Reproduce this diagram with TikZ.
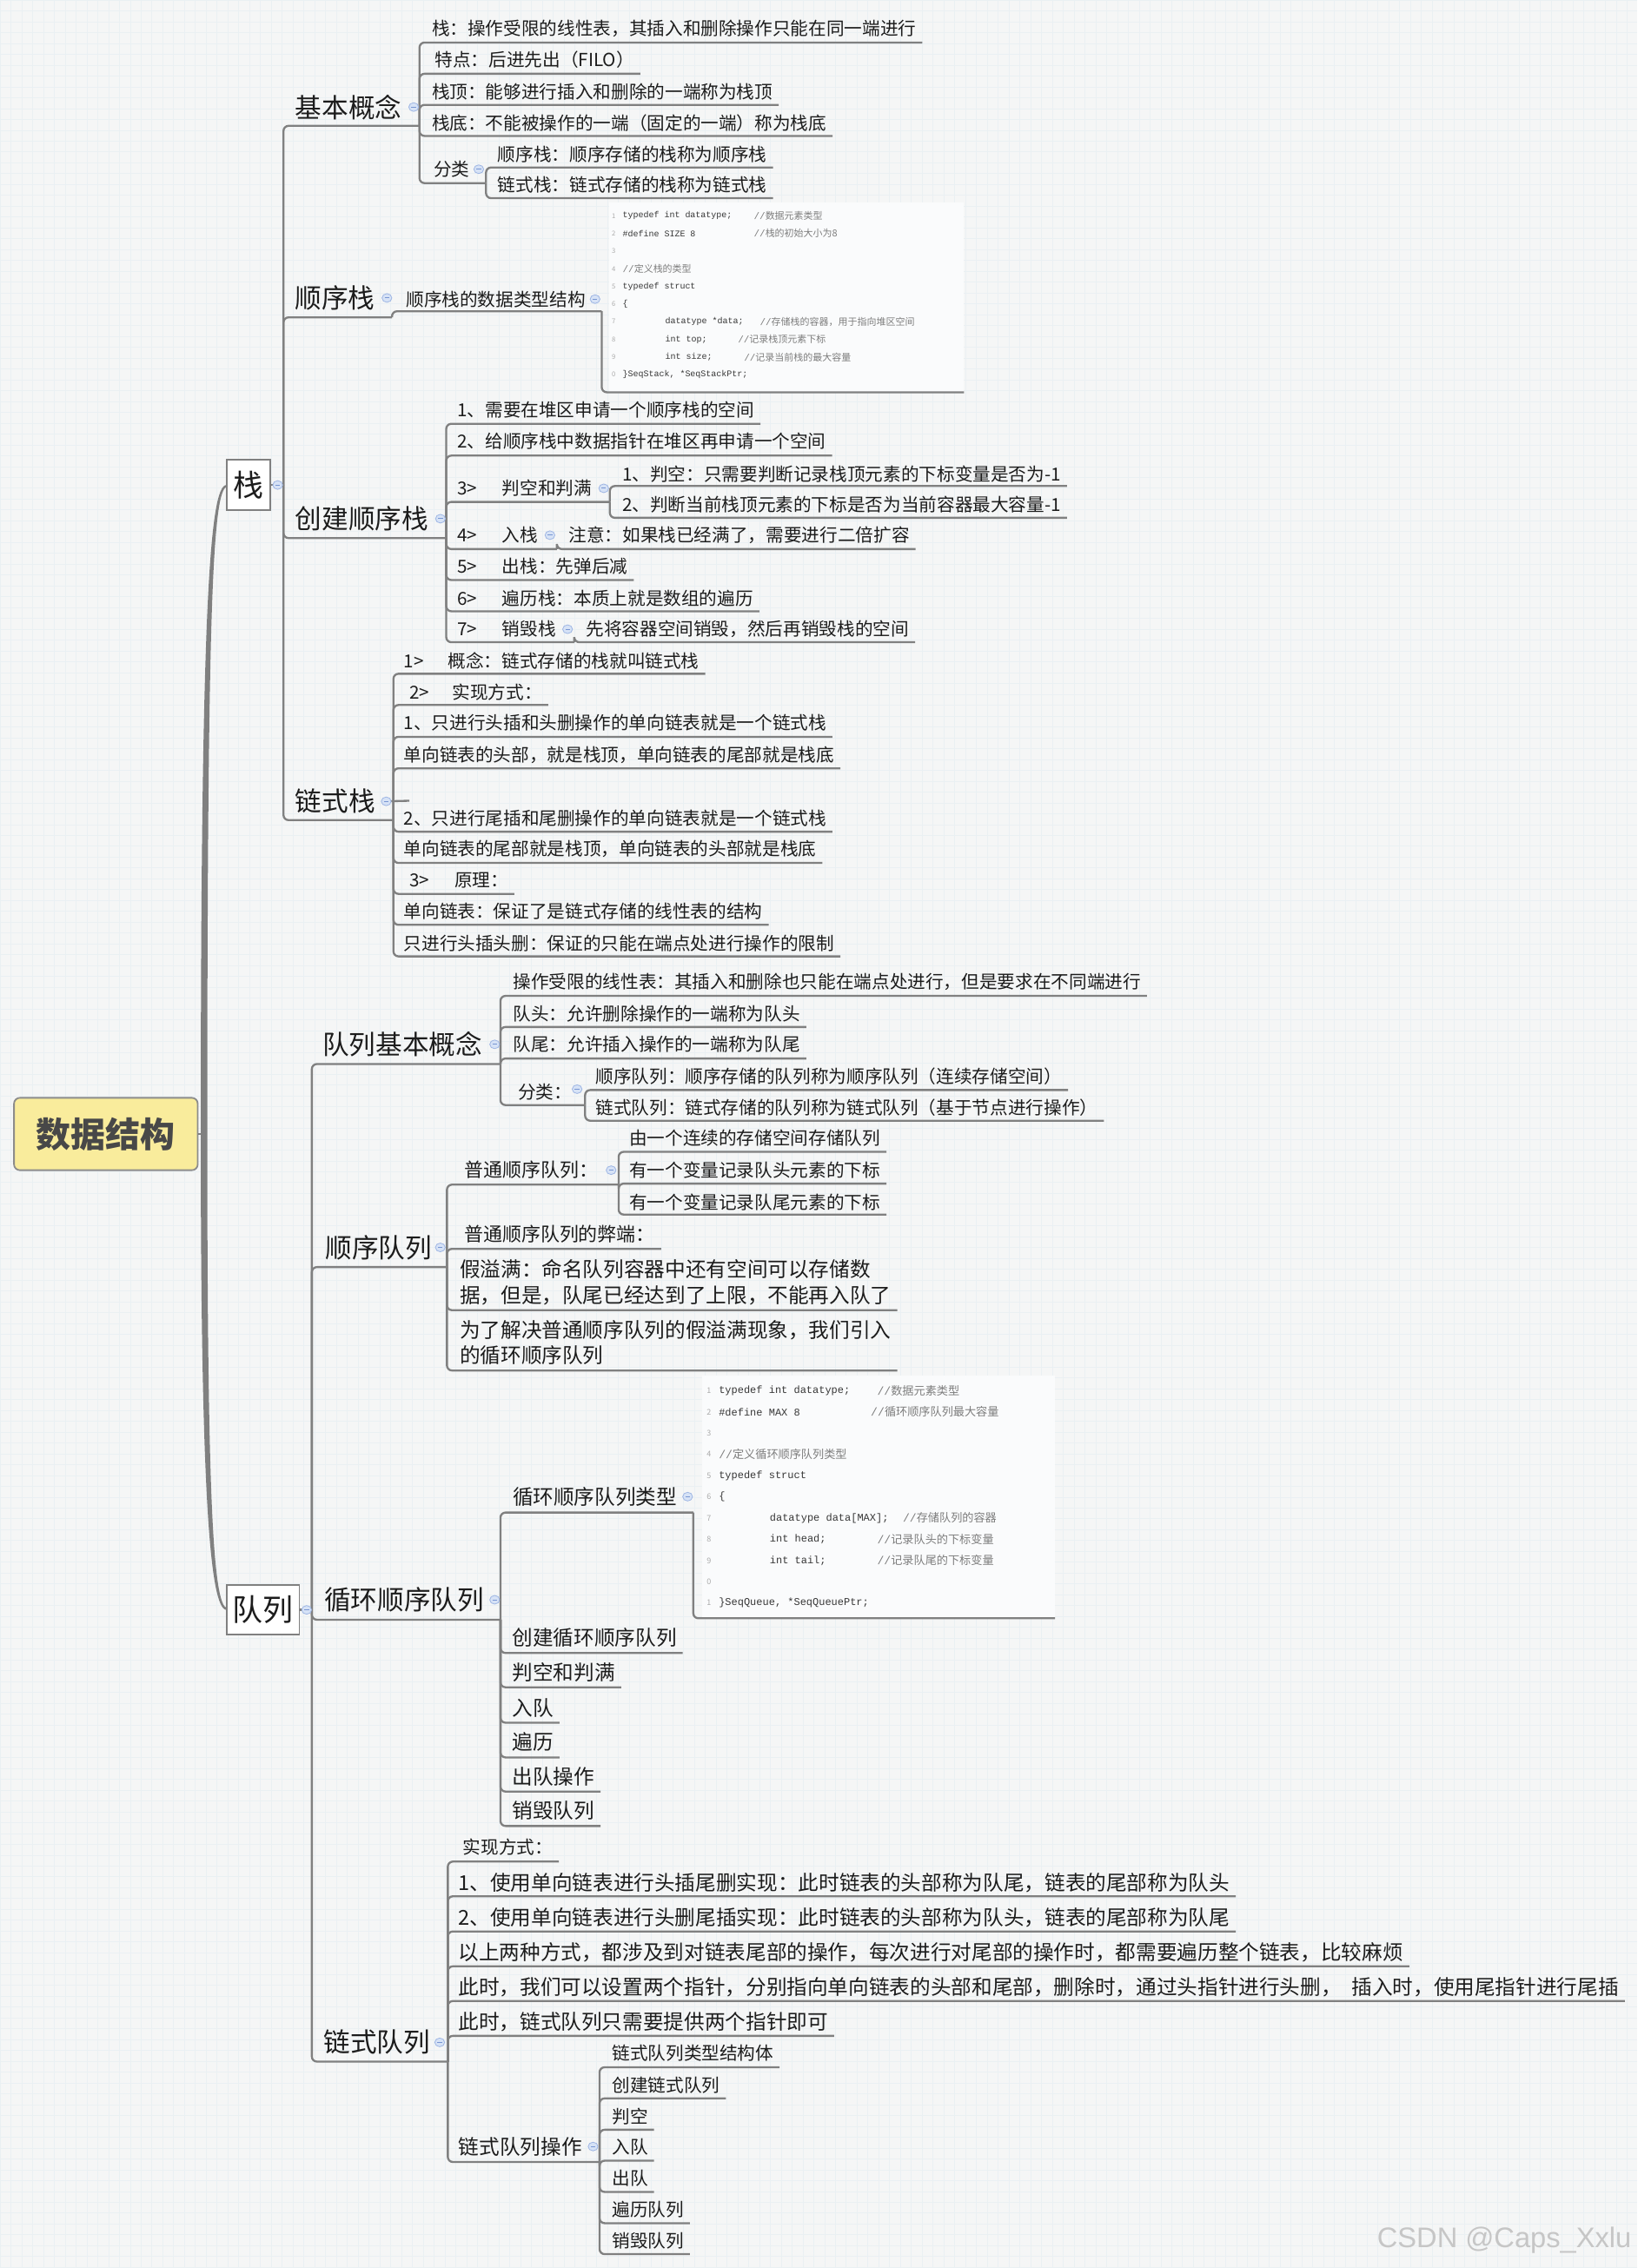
\documentclass[tikz,border=0pt]{standalone}
\usepackage{fontspec}
\setmainfont{Noto Sans CJK SC}
\newfontfamily\monof{Liberation Mono}
\newfontfamily\wmfont{Liberation Sans}
\usetikzlibrary{calc}
\definecolor{bgc}{RGB}{245,246,246}
\definecolor{gridc}{RGB}{234,240,243}
\definecolor{linec}{RGB}{128,128,128}
\definecolor{txtc}{RGB}{28,28,28}
\definecolor{rootfill}{RGB}{249,236,156}
\definecolor{rootdraw}{RGB}{140,140,140}
\definecolor{roottxt}{RGB}{72,72,72}
\definecolor{codebg}{RGB}{250,251,252}
\definecolor{codec}{RGB}{55,55,55}
\definecolor{commc}{RGB}{125,125,125}
\definecolor{numc}{RGB}{170,170,170}
\definecolor{cfill}{RGB}{214,226,246}
\definecolor{cdraw}{RGB}{160,183,228}
\definecolor{cminus}{RGB}{120,150,210}
\definecolor{wmc}{RGB}{198,198,198}
% leaf: style, name, x, ycenter, parent junction, underline offset, text
\newcommand\mmleaf[7]{\node[#1] (#2) at (#3,#4) {#7};\draw[conn] (#5) |- ($(#2.east)+(4,#6)$);}
% parent: style, name, x, ycenter, parent junction, junction x, junction y, text
\newcommand\mmpar[8]{\node[#1] (#2) at (#3,#4) {#8};\coordinate (#2-j) at (#6,#7);\draw[conn] (#5) |- (#2-j);}
\newcommand\mmcirc[2]{\draw[fill=cfill,draw=cdraw,line width=0.5pt] (#1,#2) ellipse [x radius=3.4, y radius=3];\draw[cminus,line width=0.6pt] (#1-1.6,#2) -- (#1+1.6,#2);}
\newcommand\mmgt[2]{\makebox[#1pt][l]{#2}}
\begin{document}
\begin{tikzpicture}[x=1pt,y=-1pt,
  conn/.style={draw=linec, line width=1.4pt, rounded corners=3.5pt},
  lbase/.style={anchor=west, inner sep=0pt, text=txtc},
  lt/.style={lbase, font=\fontsize{12.4}{15}\selectfont},
  lq/.style={lbase, font=\fontsize{13.2}{16}\selectfont},
  lm/.style={lbase, font=\fontsize{14.2}{17}\selectfont},
  lh/.style={lbase, font=\fontsize{18.4}{22}\selectfont},
  catbox/.style={draw=linec, line width=1.1pt, fill=white, inner sep=0pt, text=txtc, font=\fontsize{21}{24}\selectfont},
  codebox/.style={fill=codebg, inner sep=0pt, anchor=north west},
  ca/.style={anchor=west, inner sep=0pt, text=codec, font=\monof\fontsize{6}{7}\selectfont},
  cca/.style={anchor=west, inner sep=0pt, text=commc, font=\fontsize{6.6}{7}\selectfont},
  cna/.style={anchor=west, inner sep=0pt, text=numc, font=\fontsize{4.6}{5}\selectfont},
  cb/.style={anchor=west, inner sep=0pt, text=codec, font=\monof\fontsize{7.2}{8}\selectfont},
  ccb/.style={anchor=west, inner sep=0pt, text=commc, font=\fontsize{7.9}{8}\selectfont},
  cnb/.style={anchor=west, inner sep=0pt, text=numc, font=\fontsize{5.4}{6}\selectfont}]
\useasboundingbox (0,0) rectangle (1132,1568);
\fill[bgc] (0,0) rectangle (1132,1568);
\draw[gridc, line width=0.35pt, step=7.5pt] (0,0) grid (1132,1568);

% ---------- root and trunk ----------
\node[draw=rootdraw, line width=1.1pt, fill=rootfill, rounded corners=4pt, minimum width=127pt, minimum height=50pt, inner sep=0pt, text=roottxt, font=\bfseries\fontsize{24}{28}\selectfont] (root) at (73.2,784) {数据结构};
\node[catbox, minimum width=30pt, minimum height=34.6pt] (zhan) at (172,335.3) {栈};
\node[catbox, minimum width=50pt, minimum height=34pt] (duilie) at (182,1113) {队列};
\fill[linec] (zhan.west) .. controls (145,336) and (138.8,420) .. (138.8,784) .. controls (138.8,1030) and (145,1112) .. (duilie.west) -- (157,1111.8) .. controls (147,1110) and (143.3,1030) .. (143.3,784) .. controls (143.3,420) and (147,338) .. (157,336.5) -- cycle;
\coordinate (trk) at (141,784);
\draw[linec, line width=1pt] (root.east) -- (trk);

% ---------- 栈 ----------
\coordinate (zhan-j) at (196,335.3);
\draw[conn] (zhan.east) -- (zhan-j);

\mmpar{lh}{jbgn}{204}{74}{zhan-j}{290}{87}{基本概念}
\mmleaf{lt}{a1}{298.4}{20}{jbgn-j}{9.4}{栈：操作受限的线性表，其插入和删除操作只能在同一端进行}
\mmleaf{lt}{a2}{300.6}{41}{jbgn-j}{10}{特点：后进先出（FILO）}
\mmleaf{lt}{a3}{298.4}{63.7}{jbgn-j}{8.8}{栈顶：能够进行插入和删除的一端称为栈顶}
\mmleaf{lt}{a4}{298.4}{85}{jbgn-j}{9}{栈底：不能被操作的一端（固定的一端）称为栈底}
\mmpar{lt}{a5}{299.6}{117}{jbgn-j}{336}{126.6}{分类}
\mmleaf{lt}{a51}{344}{107}{a5-j}{8.8}{顺序栈：顺序存储的栈称为顺序栈}
\mmleaf{lt}{a52}{344}{128}{a5-j}{9}{链式栈：链式存储的栈称为链式栈}

\mmpar{lh}{sxz}{203.7}{206}{zhan-j}{271}{219.4}{顺序栈}
\mmpar{lt}{sxzd}{280.6}{206.8}{sxz-j}{416}{215.2}{顺序栈的数据类型结构}
\node[codebox, minimum width=245pt, minimum height=130.8pt] (code1) at (421,140) {};
\draw[conn] (sxzd-j) |- (code1.south east);
% code block 1
\node[cna] (n11) at (422.8,149.2) {1};
\node[cna] (n12) at (422.8,161.4) {2};
\node[cna] (n13) at (422.8,173.6) {3};
\node[cna] (n14) at (422.8,185.8) {4};
\node[cna] (n15) at (422.8,198.0) {5};
\node[cna] (n16) at (422.8,210.2) {6};
\node[cna] (n17) at (422.8,222.4) {7};
\node[cna] (n18) at (422.8,234.6) {8};
\node[cna] (n19) at (422.8,246.8) {9};
\node[cna] (n110) at (422.8,259.0) {0};
\node[ca] (k1a) at (430.3,149.2) {typedef int datatype;};
\node[cca] (k1b) at (521,149.2) {{\monof //}数据元素类型};
\node[ca] (k2a) at (430.3,161.4) {\#define SIZE 8};
\node[cca] (k2b) at (521,161.4) {{\monof //}栈的初始大小为8};
\node[cca] (k4) at (430.3,185.8) {{\monof //}定义栈的类型};
\node[ca] (k5) at (430.3,198.0) {typedef struct};
\node[ca] (k6) at (430.3,210.2) {\{};
\node[ca] (k7a) at (459.8,222.4) {datatype *data;};
\node[cca] (k7b) at (525.2,222.4) {{\monof //}存储栈的容器，用于指向堆区空间};
\node[ca] (k8a) at (459.8,234.6) {int top;};
\node[cca] (k8b) at (510,234.6) {{\monof //}记录栈顶元素下标};
\node[ca] (k9a) at (459.8,246.8) {int size;};
\node[cca] (k9b) at (514.2,246.8) {{\monof //}记录当前栈的最大容量};
\node[ca] (k10) at (430.3,259.0) {\}SeqStack, *SeqStackPtr;};

\mmpar{lh}{cj}{204}{358.6}{zhan-j}{308.5}{372}{创建顺序栈}
\mmleaf{lt}{c1}{316}{283.5}{cj-j}{9.5}{1、需要在堆区申请一个顺序栈的空间}
\mmleaf{lt}{c2}{316}{305}{cj-j}{10}{2、给顺序栈中数据指针在堆区再申请一个空间}
\mmpar{lt}{c3}{316}{337.6}{cj-j}{421.6}{347}{\mmgt{31}{3>}判空和判满}
\mmleaf{lt}{c31}{430}{327.5}{c3-j}{8.5}{1、判空：只需要判断记录栈顶元素的下标变量是否为-1}
\mmleaf{lt}{c32}{430}{348.6}{c3-j}{9.4}{2、判断当前栈顶元素的下标是否为当前容器最大容量-1}
\mmpar{lt}{c4}{316}{370}{cj-j}{385}{379.6}{\mmgt{31}{4>}入栈}
\mmleaf{lt}{c41}{393}{370}{c4-j}{9.6}{注意：如果栈已经满了，需要进行二倍扩容}
\mmleaf{lt}{c5}{316}{391.6}{cj-j}{9.4}{\mmgt{31}{5>}出栈：先弹后减}
\mmleaf{lt}{c6}{316}{413.5}{cj-j}{9.1}{\mmgt{31}{6>}遍历栈：本质上就是数组的遍历}
\mmpar{lt}{c7}{316}{435}{cj-j}{397}{444}{\mmgt{31}{7>}销毁栈}
\mmleaf{lt}{c71}{405}{435}{c7-j}{9}{先将容器空间销毁，然后再销毁栈的空间}

\mmpar{lh}{lsz}{204}{554}{zhan-j}{272}{567}{链式栈}
\coordinate (lsz-s) at (283,553.6);
\draw[conn] ([xshift=8pt]lsz.east) -- (lsz-s);
\mmleaf{lt}{d1}{279}{456.7}{lsz-j}{9.1}{\mmgt{30.6}{1>}概念：链式存储的栈就叫链式栈}
\mmleaf{lt}{d2}{283}{478.4}{lsz-j}{9}{\mmgt{29.6}{2>}实现方式：}
\mmleaf{lt}{d3}{279}{499.8}{lsz-j}{9.6}{1、只进行头插和头删操作的单向链表就是一个链式栈}
\mmleaf{lt}{d4}{279}{521.7}{lsz-j}{9.5}{单向链表的头部，就是栈顶，单向链表的尾部就是栈底}
\mmleaf{lt}{d5}{279}{565.5}{lsz-j}{9.5}{2、只进行尾插和尾删操作的单向链表就是一个链式栈}
\mmleaf{lt}{d6}{279}{587}{lsz-j}{9.6}{单向链表的尾部就是栈顶，单向链表的头部就是栈底}
\mmleaf{lt}{d7}{283}{608.6}{lsz-j}{9.4}{\mmgt{31}{3>}原理：}
\mmleaf{lt}{d8}{279}{630}{lsz-j}{9.4}{单向链表：保证了是链式存储的线性表的结构}
\mmleaf{lt}{d9}{279}{652}{lsz-j}{9.2}{只进行头插头删：保证的只能在端点处进行操作的限制}

% ---------- 队列 ----------
\coordinate (duilie-j) at (215.6,1113);
\draw[conn] (duilie.east) -- (duilie-j);

\mmpar{lh}{qj}{222.8}{722}{duilie-j}{346}{735.6}{队列基本概念}
\mmleaf{lt}{e1}{354.6}{679}{qj-j}{9.5}{操作受限的线性表：其插入和删除也只能在端点处进行，但是要求在不同端进行}
\mmleaf{lt}{e2}{354.6}{701}{qj-j}{9}{队头：允许删除操作的一端称为队头}
\mmleaf{lt}{e3}{354.6}{722}{qj-j}{9.8}{队尾：允许插入操作的一端称为队尾}
\mmpar{lt}{e4}{358}{754.8}{qj-j}{404.5}{764}{分类：}
\mmleaf{lt}{e41}{411.6}{744}{e4-j}{9.6}{顺序队列：顺序存储的队列称为顺序队列（连续存储空间）}
\mmleaf{lt}{e42}{411.6}{765.6}{e4-j}{9.2}{链式队列：链式存储的队列称为链式队列（基于节点进行操作）}

\mmpar{lh}{sq}{224.8}{862.4}{duilie-j}{309}{876}{顺序队列}
\mmpar{lq}{f1}{321}{809}{sq-j}{427.7}{819}{普通顺序队列：}
\mmleaf{lt}{f11}{434.8}{786.8}{f1-j}{9.5}{由一个连续的存储空间存储队列}
\mmleaf{lt}{f12}{434.8}{809}{f1-j}{9.3}{有一个变量记录队头元素的下标}
\mmleaf{lt}{f13}{434.8}{831}{f1-j}{8.7}{有一个变量记录队尾元素的下标}
\mmleaf{lq}{f2}{320.7}{853.4}{sq-j}{10}{普通顺序队列的弊端：}
\node[lm] (f3) at (317.7,877.4) {假溢满：命名队列容器中还有空间可以存储数};
\mmleaf{lm}{f3b}{317.7}{895.4}{sq-j}{10.4}{据，但是，队尾已经达到了上限，不能再入队了}
\node[lm] (f4b) at (317.7,937) {的循环顺序队列};
\mmleaf{lm}{f4}{317.7}{919.5}{sq-j}{28}{为了解决普通顺序队列的假溢满现象，我们引入}

\mmpar{lh}{xh}{224}{1106}{duilie-j}{346}{1119.8}{循环顺序队列}
\mmpar{lm}{g0}{354.3}{1034.7}{xh-j}{479.3}{1045.7}{循环顺序队列类型}
\node[codebox, minimum width=244pt, minimum height=167.4pt] (code2) at (485,951) {};
\draw[conn] (g0-j) |- (code2.south east);
% code block 2
\node[cnb] (n21) at (488.5,961.5) {1};
\node[cnb] (n22) at (488.5,976.2) {2};
\node[cnb] (n23) at (488.5,990.8) {3};
\node[cnb] (n24) at (488.5,1005.5) {4};
\node[cnb] (n25) at (488.5,1020.2) {5};
\node[cnb] (n26) at (488.5,1034.8) {6};
\node[cnb] (n27) at (488.5,1049.5) {7};
\node[cnb] (n28) at (488.5,1064.2) {8};
\node[cnb] (n29) at (488.5,1078.9) {9};
\node[cnb] (n210) at (488.5,1093.5) {0};
\node[cnb] (n211) at (488.5,1108.2) {1};
\node[cb] (m1a) at (496.8,961.5) {typedef int datatype;};
\node[ccb] (m1b) at (606.3,961.5) {{\monof //}数据元素类型};
\node[cb] (m2a) at (496.8,976.2) {\#define MAX 8};
\node[ccb] (m2b) at (601.9,976.2) {{\monof //}循环顺序队列最大容量};
\node[ccb] (m4) at (496.8,1005.5) {{\monof //}定义循环顺序队列类型};
\node[cb] (m5) at (496.8,1020.2) {typedef struct};
\node[cb] (m6) at (496.8,1034.8) {\{};
\node[cb] (m7a) at (532,1049.5) {datatype data[MAX];};
\node[ccb] (m7b) at (624,1049.5) {{\monof //}存储队列的容器};
\node[cb] (m8a) at (532,1064.2) {int head;};
\node[ccb] (m8b) at (606.3,1064.2) {{\monof //}记录队头的下标变量};
\node[cb] (m9a) at (532,1078.9) {int tail;};
\node[ccb] (m9b) at (606.3,1078.9) {{\monof //}记录队尾的下标变量};
\node[cb] (m11) at (496.8,1108.2) {\}SeqQueue, *SeqQueuePtr;};

\mmleaf{lm}{g1}{354}{1132}{xh-j}{10.8}{创建循环顺序队列}
\mmleaf{lm}{g2}{354}{1156.3}{xh-j}{10.2}{判空和判满}
\mmleaf{lm}{g3}{354}{1181}{xh-j}{10}{入队}
\mmleaf{lm}{g4}{354}{1204.5}{xh-j}{10.5}{遍历}
\mmleaf{lm}{g5}{354}{1228}{xh-j}{10.6}{出队操作}
\mmleaf{lm}{g6}{354}{1252}{xh-j}{10.4}{销毁队列}

\mmpar{lh}{lq}{223.6}{1412}{duilie-j}{309.6}{1425.3}{链式队列}
\mmleaf{lt}{h0}{320}{1277}{lq-j}{10}{实现方式：}
\mmleaf{lm}{h1}{316.7}{1301.7}{lq-j}{9.3}{1、使用单向链表进行头插尾删实现：此时链表的头部称为队尾，链表的尾部称为队头}
\mmleaf{lm}{h2}{316.7}{1325.7}{lq-j}{9.6}{2、使用单向链表进行头删尾插实现：此时链表的头部称为队头，链表的尾部称为队尾}
\mmleaf{lm}{h3}{316.7}{1349.8}{lq-j}{9.6}{以上两种方式，都涉及到对链表尾部的操作，每次进行对尾部的操作时，都需要遍历整个链表，比较麻烦}
\mmleaf{lm}{h4}{316.7}{1373.8}{lq-j}{9.6}{此时，我们可以设置两个指针，分别指向单向链表的头部和尾部，删除时，通过头指针进行头删，\hspace*{7pt}插入时，使用尾指针进行尾插}
\mmleaf{lm}{h5}{316.7}{1397.8}{lq-j}{9.7}{此时，链式队列只需要提供两个指针即可}
\mmpar{lm}{h6}{317}{1484}{lq-j}{414.5}{1494.7}{链式队列操作}
\mmleaf{lt}{h61}{423}{1419.6}{h6-j}{9.6}{链式队列类型结构体}
\mmleaf{lt}{h62}{423}{1441.4}{h6-j}{9.3}{创建链式队列}
\mmleaf{lt}{h63}{423}{1463}{h6-j}{9.4}{判空}
\mmleaf{lt}{h64}{423}{1484.4}{h6-j}{9.4}{入队}
\mmleaf{lt}{h65}{423}{1506}{h6-j}{9.4}{出队}
\mmleaf{lt}{h66}{423}{1527.5}{h6-j}{9.5}{遍历队列}
\mmleaf{lt}{h67}{423}{1549}{h6-j}{9.4}{销毁队列}

% ---------- collapse markers ----------
\mmcirc{192}{335.3}
\mmcirc{286}{74}
\mmcirc{331}{117}
\mmcirc{267.5}{206}
\mmcirc{411.4}{206.8}
\mmcirc{304.5}{358.6}
\mmcirc{417.4}{337.6}
\mmcirc{380.2}{370}
\mmcirc{392.4}{435}
\mmcirc{267}{554}
\mmcirc{212}{1113}
\mmcirc{342}{722}
\mmcirc{399}{753}
\mmcirc{304.4}{862.4}
\mmcirc{422.5}{809}
\mmcirc{342}{1106}
\mmcirc{475.4}{1034.7}
\mmcirc{304}{1412}
\mmcirc{410}{1484}

% watermark
\node[anchor=east, inner sep=0pt, text=wmc, font=\wmfont\fontsize{19.6}{22}\selectfont] (wmark) at (1128,1549) {CSDN @Caps\_Xxlu};
\end{tikzpicture}
\end{document}
